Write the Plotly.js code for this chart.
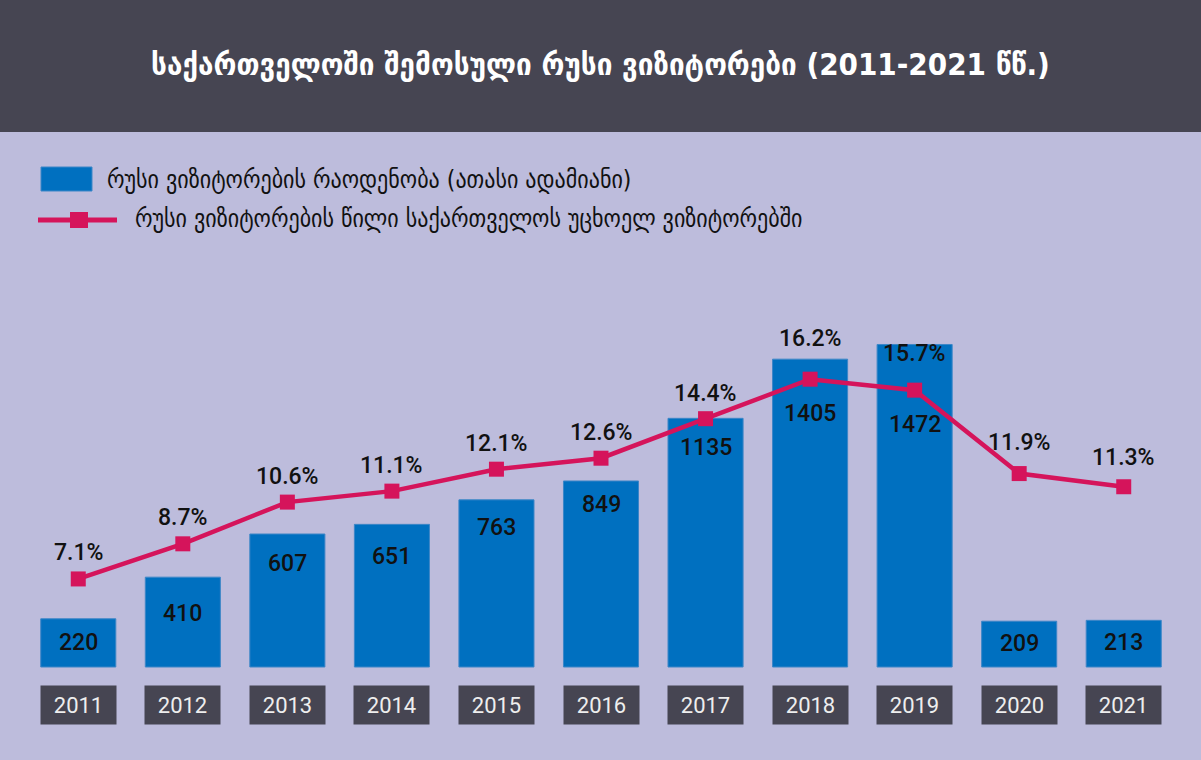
<!DOCTYPE html>
<html>
<head>
<meta charset="utf-8">
<script src="https://cdn.plot.ly/plotly-3.0.1.min.js"></script>
<style>
  html, body { margin: 0; padding: 0; background: #bdbcdc; }
  #chart { width: 1201px; height: 760px; }
</style>
</head>
<body>
<div id="chart"></div>
<script>
// data
var years = ['2011', '2012', '2013', '2014', '2015', '2016', '2017', '2018', '2019', '2020', '2021']
var visitors = [220, 410, 607, 651, 763, 849, 1135, 1405, 1472, 209, 213]
var share = [7.1, 8.7, 10.6, 11.1, 12.1, 12.6, 14.4, 16.2, 15.7, 11.9, 11.3]

var titleText = 'საქართველოში შემოსული რუსი ვიზიტორები (2011-2021 წწ.)'
var legendBars = 'რუსი ვიზიტორების რაოდენობა (ათასი ადამიანი)'
var legendLine = 'რუსი ვიზიტორების წილი საქართველოს უცხოელ ვიზიტორებში'

// label offsets in px (how far labels sit from bar top / point)
var barLabelShift = [24, 36, 29, 32, 28, 24, 29, 54, 80, 22, 22]
var pctLabelShift = [26, 26, 26, 26, 26, 26, 25, 41, 37, 31, 29]

var W = 1201, H = 760
var M = { l: 26, r: 25, t: 240, b: 20 }
var plotW = W - M.l - M.r
var plotH = H - M.t - M.b

// pixel -> paper helpers
function px(x) { return (x - M.l) / plotW }
function py(y) { return (H - M.b - y) / plotH }

var geoFont = '"DejaVu Sans Condensed", "DejaVu Sans", sans-serif'
var numFont = 'Roboto, "Noto Sans", sans-serif'
var pink = '#d5145b'
var blue = '#0070c0'
var dark = '#464552'

var bars = {
    type: 'bar',
    x: years,
    y: visitors,
    width: 0.718,
    marker: { color: blue, line: { color: '#3d86c7', width: 1 } },
    hoverinfo: 'skip',
    showlegend: false
}

var line = {
    type: 'scatter',
    x: years,
    y: share,
    yaxis: 'y2',
    mode: 'lines+markers',
    line: { color: pink, width: 4.5 },
    marker: { color: pink, size: 15, symbol: 'square' },
    hoverinfo: 'skip',
    showlegend: false
}

var annotations = []

// category axis: annotations take the category index
for (var i = 0; i < years.length; i++) {
    // bar value
    annotations.push({
        x: i, y: visitors[i], xref: 'x', yref: 'y',
        text: String(visitors[i]), showarrow: false,
        yanchor: 'middle', yshift: -barLabelShift[i],
        font: { family: numFont, size: 23, color: '#111', weight: 500 }
    })
    // percent
    annotations.push({
        x: i, y: share[i], xref: 'x', yref: 'y2',
        text: share[i].toFixed(1) + '%', showarrow: false,
        yanchor: 'middle', yshift: pctLabelShift[i],
        font: { family: numFont, size: 23, color: '#111', weight: 500 }
    })
    // year box
    annotations.push({
        x: i, y: py(705), xref: 'x', yref: 'paper',
        text: years[i], showarrow: false,
        width: 75, height: 38, bgcolor: dark, borderpad: 0,
        yanchor: 'middle',
        font: { family: numFont, size: 22, color: '#eeeeee' }
    })
}

// legend texts
annotations.push({
    x: px(105), y: py(180), xref: 'paper', yref: 'paper',
    text: legendBars, showarrow: false, xanchor: 'left', yanchor: 'middle',
    font: { family: geoFont, size: 24.5, color: '#111' }
})
annotations.push({
    x: px(133), y: py(219), xref: 'paper', yref: 'paper',
    text: legendLine, showarrow: false, xanchor: 'left', yanchor: 'middle',
    font: { family: geoFont, size: 24.5, color: '#111' }
})

var shapes = [
    // title band
    { type: 'rect', xref: 'paper', yref: 'paper', layer: 'below',
      x0: px(0), x1: px(W), y0: py(132), y1: py(0),
      fillcolor: dark, line: { width: 0 } },
    // legend: bars
    { type: 'rect', xref: 'paper', yref: 'paper',
      x0: px(41), x1: px(92), y0: py(191), y1: py(167),
      fillcolor: blue, line: { color: '#3d86c7', width: 1 } },
    // legend: line
    { type: 'line', xref: 'paper', yref: 'paper',
      x0: px(38), x1: px(117), y0: py(220), y1: py(220),
      line: { color: pink, width: 5 } },
    { type: 'rect', xref: 'paper', yref: 'paper',
      x0: px(70), x1: px(88), y0: py(228), y1: py(212),
      fillcolor: pink, line: { width: 0 } }
]

var layout = {
    width: W,
    height: H,
    margin: M,
    paper_bgcolor: '#bdbcdc',
    plot_bgcolor: 'rgba(0,0,0,0)',
    showlegend: false,
    hovermode: false,
    title: {
        text: titleText,
        x: 0.5, xanchor: 'center',
        y: 1 - 64 / H, yref: 'container', yanchor: 'middle',
        font: { family: geoFont, size: 31, color: '#ffffff', weight: 'bold' }
    },
    xaxis: {
        type: 'category',
        range: [-0.5, 10.5],
        showgrid: false, zeroline: false, showticklabels: false, showline: false,
        fixedrange: true
    },
    yaxis: {
        range: [-333.2, 1948.9],
        showgrid: false, zeroline: false, showticklabels: false,
        fixedrange: true
    },
    yaxis2: {
        overlaying: 'y',
        range: [-0.237, 22.54],
        showgrid: false, zeroline: false, showticklabels: false,
        fixedrange: true
    },
    shapes: shapes,
    annotations: annotations
}

var config = { responsive: false, displayModeBar: false, staticPlot: true }

Plotly.newPlot('chart', [bars, line], layout, config)
</script>
</body>
</html>
